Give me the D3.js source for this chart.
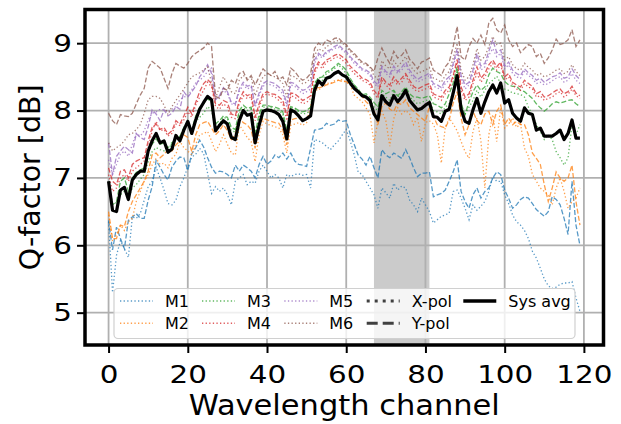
<!DOCTYPE html>
<html>
<head>
<meta charset="utf-8">
<script src="https://cdn.jsdelivr.net/npm/d3@7"></script>
<style>
  body { margin: 0; background: #fff; }
  svg { display: block; font-family: "DejaVu Sans", sans-serif; }
</style>
</head>
<body>
<svg id="chart" width="621" height="424"></svg>
<script>
// Q-factor per wavelength channel
const sysAvg = [
  6.95, 6.52, 6.50, 6.82, 6.86, 6.68, 6.97, 7.05, 7.10, 7.10,
  7.40, 7.55, 7.66, 7.52, 7.55, 7.38, 7.43, 7.63, 7.55, 7.71,
  7.84, 7.66, 7.86, 8.02, 8.12, 8.21, 8.16, 7.70, 7.78, 7.85,
  7.80, 7.60, 7.57, 7.85, 8.00, 7.93, 7.95, 7.52, 7.78, 7.99,
  8.01, 8.00, 7.98, 7.94, 7.84, 7.58, 8.01, 7.98, 7.92, 7.85,
  7.88, 7.92, 8.30, 8.44, 8.38, 8.48, 8.50, 8.55, 8.58, 8.53,
  8.50, 8.41, 8.33, 8.28, 8.22, 8.20, 8.15, 7.95, 7.86, 8.22,
  8.13, 8.08, 8.22, 8.13, 8.20, 8.30, 8.15, 8.08, 8.01, 8.03,
  8.08, 8.12, 7.91, 7.90, 7.84, 7.99, 8.02, 8.26, 8.52, 8.02,
  7.84, 7.81, 8.01, 8.18, 7.96, 8.13, 8.28, 8.38, 8.26, 8.41,
  8.11, 8.16, 7.96, 7.89, 7.84, 8.04, 7.96, 7.94, 7.71, 7.74,
  7.62, 7.62, 7.62, 7.66, 7.71, 7.57, 7.66, 7.86, 7.59, 7.59
]
const m1x = [
  6.35, 5.30, 5.85, 6.07, 5.95, 5.82, 6.42, 6.40, 6.47, 6.67,
  6.87, 6.95, 7.16, 7.00, 6.82, 6.62, 6.60, 6.67, 6.87, 7.00,
  7.16, 7.31, 7.35, 7.44, 7.36, 7.07, 6.77, 6.87, 6.80, 6.85,
  6.75, 6.60, 6.95, 7.00, 7.05, 6.90, 6.95, 6.92, 7.10, 7.19,
  7.10, 7.00, 7.05, 7.00, 6.85, 7.05, 7.02, 7.05, 7.06, 7.04,
  7.05, 6.85, 7.57, 7.55, 7.52, 7.47, 7.42, 7.49, 7.55, 7.64,
  7.72, 7.55, 7.35, 7.09, 7.05, 6.95, 6.85, 6.75, 6.55, 6.85,
  6.78, 6.70, 6.92, 6.82, 6.88, 6.85, 6.67, 6.60, 6.50, 6.70,
  6.60, 6.50, 6.33, 6.38, 6.43, 6.45, 6.48, 6.80, 6.82, 6.70,
  6.55, 6.38, 6.60, 6.52, 6.58, 6.65, 6.80, 7.02, 6.95, 6.95,
  6.75, 6.62, 6.45, 6.35, 6.30, 6.22, 6.10, 5.91, 5.81, 5.66,
  5.50, 5.40, 5.36, 5.38, 5.42, 5.44, 5.44, 5.46, 5.22, 5.02
]
const m1y = [
  6.37, 5.93, 6.27, 6.10, 5.95, 6.37, 6.42, 6.47, 6.40, 6.40,
  6.67, 6.87, 7.26, 7.16, 7.05, 6.97, 7.16, 7.25, 7.31, 7.30,
  7.11, 7.36, 7.45, 7.56, 7.46, 7.30, 7.16, 7.07, 7.10, 7.09,
  7.05, 7.00, 7.19, 7.10, 7.19, 7.15, 7.10, 7.00, 7.20, 7.32,
  7.20, 7.25, 7.34, 7.30, 7.37, 7.28, 7.37, 7.25, 7.20, 7.19,
  7.17, 7.44, 7.71, 7.72, 7.74, 7.81, 7.78, 7.80, 7.86, 7.84,
  7.85, 7.65, 7.50, 7.34, 7.28, 7.19, 7.32, 7.15, 7.00, 7.42,
  7.34, 7.30, 7.37, 7.33, 7.29, 7.42, 7.30, 7.15, 7.02, 7.07,
  7.07, 7.09, 6.72, 6.75, 6.77, 6.82, 6.95, 7.09, 7.27, 6.80,
  6.65, 6.55, 6.75, 6.85, 6.70, 6.80, 6.85, 7.00, 7.09, 7.05,
  6.82, 6.70, 6.55, 6.60, 6.68, 6.72, 6.70, 6.62, 6.53, 6.48,
  6.43, 6.50, 6.72, 6.68, 6.60, 6.40, 6.16, 6.95, 6.30, 6.00
]
const m2x = [
  6.45, 6.06, 6.16, 6.30, 6.22, 6.35, 6.40, 6.65, 6.80, 6.95,
  7.05, 7.19, 7.29, 7.20, 7.22, 7.15, 7.29, 7.35, 7.54, 7.45,
  7.40, 7.34, 7.50, 7.64, 7.66, 7.69, 7.55, 7.39, 7.50, 7.64,
  7.50, 7.37, 7.34, 7.79, 7.70, 7.60, 7.54, 7.24, 7.64, 7.84,
  7.80, 7.78, 7.76, 7.74, 7.64, 7.37, 7.78, 7.80, 7.82, 7.78,
  7.82, 8.08, 8.31, 8.30, 8.36, 8.41, 8.40, 8.44, 8.45, 8.46,
  8.42, 8.38, 8.23, 8.18, 8.13, 8.04, 7.94, 7.52, 7.84, 7.99,
  7.85, 7.47, 7.88, 8.04, 7.95, 8.00, 7.95, 7.79, 7.90, 7.54,
  7.82, 7.85, 7.80, 7.64, 7.22, 7.75, 7.89, 7.80, 7.70, 7.54,
  7.39, 7.29, 7.69, 7.89, 7.55, 6.85, 7.64, 7.94, 7.54, 8.04,
  7.74, 7.80, 7.89, 7.75, 7.80, 7.44, 7.32, 7.05, 6.95, 6.85,
  6.80, 6.75, 6.60, 6.85, 7.00, 6.80, 6.55, 6.65, 6.70, 6.85
]
const m2y = [
  6.50, 6.10, 6.10, 6.30, 6.28, 6.50, 6.65, 6.75, 6.85, 6.95,
  7.10, 7.34, 7.37, 7.30, 7.35, 7.42, 7.40, 7.49, 7.55, 7.64,
  7.60, 7.39, 7.64, 7.79, 7.82, 7.84, 7.74, 7.64, 7.70, 7.79,
  7.70, 7.57, 7.65, 7.89, 7.82, 7.79, 7.71, 7.44, 7.79, 7.89,
  7.86, 7.84, 7.82, 7.81, 7.71, 7.49, 7.86, 7.88, 7.89, 7.86,
  7.87, 7.95, 8.33, 8.34, 8.35, 8.38, 8.40, 8.42, 8.45, 8.43,
  8.43, 8.40, 8.33, 8.28, 8.21, 8.13, 8.08, 8.01, 7.79, 8.06,
  8.11, 8.02, 7.99, 8.11, 8.09, 8.16, 8.04, 7.99, 7.94, 7.89,
  7.84, 8.06, 7.91, 7.79, 7.76, 7.74, 7.86, 8.11, 8.28, 7.89,
  7.64, 7.79, 7.99, 7.85, 7.79, 7.95, 7.99, 7.79, 7.99, 8.08,
  7.79, 7.89, 7.79, 7.84, 7.79, 7.79, 7.64, 7.37, 7.29, 7.20,
  6.90, 6.65, 6.85, 7.09, 7.00, 6.95, 7.00, 7.19, 6.65, 6.30
]
const m3x = [
  6.85, 6.63, 6.63, 6.75, 6.80, 6.70, 6.85, 6.90, 6.98, 7.05,
  7.24, 7.39, 7.45, 7.42, 7.40, 7.38, 7.54, 7.58, 7.62, 7.74,
  7.80, 7.64, 7.84, 7.90, 7.96, 8.06, 8.00, 7.75, 7.80, 7.90,
  7.88, 7.70, 7.68, 7.95, 8.04, 8.00, 8.02, 7.60, 7.90, 8.05,
  8.05, 8.04, 8.02, 8.00, 7.95, 7.60, 8.04, 8.03, 7.98, 7.95,
  7.96, 8.00, 8.38, 8.50, 8.45, 8.55, 8.58, 8.62, 8.68, 8.62,
  8.55, 8.45, 8.38, 8.30, 8.25, 8.22, 8.18, 8.05, 8.00, 8.25,
  8.20, 8.15, 8.28, 8.20, 8.25, 8.32, 8.20, 8.15, 8.10, 8.12,
  8.15, 8.16, 8.00, 7.98, 7.95, 8.05, 8.10, 8.30, 8.62, 8.05,
  7.95, 8.05, 8.15, 8.30, 8.20, 8.30, 8.40, 8.45, 8.51, 8.40,
  8.32, 8.30, 8.26, 8.25, 8.24, 8.20, 8.05, 7.94, 7.79, 7.69,
  7.57, 7.64, 7.57, 7.39, 7.30, 7.19, 7.30, 7.79, 7.64, 7.79
]
const m3y = [
  6.95, 6.60, 6.65, 6.95, 7.00, 6.80, 7.00, 7.08, 7.12, 7.15,
  7.40, 7.50, 7.58, 7.50, 7.52, 7.45, 7.50, 7.62, 7.60, 7.75,
  7.85, 7.70, 7.92, 8.05, 8.10, 8.18, 8.12, 7.80, 7.85, 7.92,
  7.90, 7.75, 7.72, 8.00, 8.08, 8.03, 8.05, 7.65, 7.95, 8.08,
  8.08, 8.06, 8.05, 8.03, 7.98, 7.70, 8.06, 8.04, 8.00, 7.98,
  8.00, 8.05, 8.41, 8.48, 8.50, 8.58, 8.60, 8.65, 8.70, 8.66,
  8.60, 8.48, 8.38, 8.32, 8.23, 8.25, 8.20, 8.12, 8.05, 8.30,
  8.25, 8.28, 8.30, 8.22, 8.28, 8.35, 8.25, 8.20, 8.20, 8.18,
  8.20, 8.22, 8.10, 8.08, 8.04, 8.10, 8.25, 8.40, 8.65, 8.10,
  7.94, 8.13, 8.28, 8.38, 8.30, 8.35, 8.53, 8.63, 8.58, 8.55,
  8.43, 8.38, 8.36, 8.36, 8.30, 8.28, 8.23, 8.18, 8.10, 8.04,
  7.99, 8.04, 8.10, 8.13, 8.11, 8.13, 8.15, 8.16, 8.10, 8.06
]
const m4x = [
  7.05, 6.80, 6.85, 7.00, 7.05, 6.95, 7.10, 7.15, 7.20, 7.25,
  7.45, 7.70, 7.84, 7.70, 7.72, 7.62, 7.66, 7.80, 7.78, 7.86,
  7.98, 7.90, 8.08, 8.20, 8.30, 8.42, 8.35, 8.06, 8.02, 8.10,
  8.05, 7.90, 7.88, 8.10, 8.22, 8.18, 8.20, 7.85, 8.05, 8.20,
  8.25, 8.22, 8.20, 8.15, 8.10, 7.85, 8.22, 8.20, 8.15, 8.10,
  8.12, 8.18, 8.55, 8.68, 8.62, 8.72, 8.74, 8.78, 8.80, 8.75,
  8.70, 8.62, 8.55, 8.50, 8.45, 8.42, 8.38, 8.25, 8.18, 8.45,
  8.38, 8.32, 8.45, 8.38, 8.42, 8.52, 8.40, 8.32, 8.28, 8.30,
  8.32, 8.36, 8.20, 8.18, 8.15, 8.25, 8.30, 8.48, 8.72, 8.30,
  8.15, 8.20, 8.40, 8.55, 8.42, 8.50, 8.62, 8.70, 8.60, 8.68,
  8.45, 8.50, 8.38, 8.32, 8.30, 8.40, 8.35, 8.32, 8.20, 8.22,
  8.15, 8.18, 8.20, 8.25, 8.28, 8.20, 8.24, 8.32, 8.22, 8.18
]
const m4y = [
  7.15, 6.95, 6.90, 7.10, 7.12, 7.00, 7.20, 7.25, 7.28, 7.30,
  7.55, 7.75, 7.80, 7.72, 7.75, 7.65, 7.70, 7.85, 7.80, 7.92,
  8.05, 7.95, 8.12, 8.28, 8.40, 8.46, 8.40, 8.10, 8.08, 8.15,
  8.12, 7.95, 7.92, 8.15, 8.28, 8.22, 8.25, 7.90, 8.10, 8.25,
  8.28, 8.25, 8.24, 8.20, 8.15, 7.92, 8.26, 8.25, 8.20, 8.15,
  8.18, 8.22, 8.60, 8.72, 8.68, 8.75, 8.78, 8.82, 8.84, 8.80,
  8.75, 8.66, 8.60, 8.55, 8.48, 8.46, 8.42, 8.30, 8.22, 8.50,
  8.42, 8.38, 8.50, 8.42, 8.48, 8.55, 8.45, 8.36, 8.32, 8.35,
  8.38, 8.40, 8.25, 8.22, 8.20, 8.30, 8.35, 8.52, 8.76, 8.35,
  8.20, 8.25, 8.45, 8.65, 8.48, 8.55, 8.68, 8.75, 8.65, 8.72,
  8.50, 8.55, 8.42, 8.38, 8.35, 8.45, 8.40, 8.36, 8.25, 8.28,
  8.20, 8.22, 8.26, 8.30, 8.32, 8.25, 8.28, 8.36, 8.26, 8.22
]
const m5x = [
  7.27, 7.05, 7.20, 7.35, 7.40, 7.32, 7.50, 7.66, 7.62, 7.70,
  7.86, 7.96, 7.98, 8.02, 8.01, 7.98, 8.02, 8.06, 8.16, 8.20,
  8.22, 8.31, 8.41, 8.45, 8.50, 8.58, 8.63, 8.21, 8.20, 8.30,
  8.25, 8.10, 8.08, 8.28, 8.38, 8.32, 8.35, 8.05, 8.22, 8.36,
  8.40, 8.38, 8.36, 8.30, 8.25, 8.05, 8.38, 8.36, 8.30, 8.25,
  8.28, 8.32, 8.70, 8.82, 8.78, 8.85, 8.88, 8.92, 8.94, 8.90,
  8.85, 8.78, 8.70, 8.65, 8.60, 8.58, 8.52, 8.40, 8.35, 8.62,
  8.55, 8.50, 8.62, 8.55, 8.60, 8.68, 8.56, 8.48, 8.42, 8.45,
  8.48, 8.52, 8.36, 8.34, 8.30, 8.40, 8.45, 8.65, 8.88, 8.48,
  8.32, 8.38, 8.55, 8.78, 8.60, 8.65, 8.82, 8.92, 8.80, 8.85,
  8.62, 8.68, 8.55, 8.50, 8.48, 8.58, 8.52, 8.48, 8.40, 8.42,
  8.38, 8.40, 8.44, 8.48, 8.50, 8.42, 8.45, 8.55, 8.45, 8.40
]
const m5y = [
  7.52, 7.05, 7.32, 7.40, 7.47, 7.42, 7.37, 7.66, 7.60, 7.57,
  7.76, 8.01, 7.95, 7.85, 8.01, 7.92, 7.96, 8.06, 8.02, 8.28,
  8.20, 8.28, 8.36, 8.50, 8.58, 8.68, 8.55, 8.16, 8.22, 8.34,
  8.28, 8.12, 8.10, 8.32, 8.42, 8.36, 8.38, 8.08, 8.26, 8.40,
  8.44, 8.42, 8.40, 8.35, 8.30, 8.10, 8.42, 8.40, 8.34, 8.30,
  8.32, 8.38, 8.75, 8.85, 8.80, 8.88, 8.90, 8.95, 8.98, 8.92,
  8.88, 8.80, 8.74, 8.68, 8.62, 8.60, 8.56, 8.44, 8.38, 8.66,
  8.58, 8.54, 8.66, 8.58, 8.64, 8.72, 8.60, 8.52, 8.46, 8.50,
  8.52, 8.56, 8.40, 8.38, 8.34, 8.45, 8.50, 8.70, 8.92, 8.52,
  8.38, 8.42, 8.60, 8.85, 8.66, 8.70, 8.88, 9.05, 8.86, 8.90,
  8.66, 8.72, 8.60, 8.55, 8.52, 8.62, 8.56, 8.52, 8.45, 8.48,
  8.42, 8.46, 8.50, 8.52, 8.56, 8.48, 8.50, 8.62, 8.52, 8.46
]
const m6x = [
  7.52, 7.40, 7.45, 7.49, 7.55, 7.64, 7.66, 7.72, 7.79, 7.96,
  8.16, 8.21, 8.21, 8.18, 8.08, 7.94, 8.06, 8.15, 8.23, 8.32,
  8.41, 8.50, 8.53, 8.56, 8.60, 8.65, 8.41, 8.18, 8.35, 8.50,
  8.40, 8.28, 8.25, 8.45, 8.52, 8.48, 8.50, 8.22, 8.38, 8.50,
  8.55, 8.52, 8.50, 8.46, 8.40, 8.20, 8.52, 8.50, 8.45, 8.40,
  8.42, 8.48, 8.82, 8.92, 8.88, 8.95, 8.98, 9.02, 9.04, 9.00,
  8.95, 8.88, 8.82, 8.76, 8.70, 8.68, 8.64, 8.52, 8.46, 8.74,
  8.66, 8.62, 8.74, 8.66, 8.72, 8.80, 8.68, 8.60, 8.55, 8.58,
  8.60, 8.64, 8.48, 8.46, 8.42, 8.52, 8.58, 8.78, 9.00, 8.60,
  8.45, 8.50, 8.68, 8.92, 8.75, 8.80, 8.95, 9.10, 8.98, 9.00,
  8.75, 8.80, 8.68, 8.62, 8.60, 8.70, 8.64, 8.60, 8.52, 8.55,
  8.50, 8.52, 8.56, 8.60, 8.62, 8.55, 8.58, 8.68, 8.58, 8.52
]
const m6y = [
  7.96, 7.85, 7.79, 7.94, 7.92, 7.91, 7.96, 8.10, 8.23, 8.33,
  8.63, 8.73, 8.68, 8.63, 8.48, 8.33, 8.55, 8.70, 8.66, 8.63,
  8.70, 8.80, 8.85, 8.89, 8.93, 9.00, 8.95, 8.21, 8.18, 8.33,
  8.30, 8.45, 8.40, 8.55, 8.58, 8.45, 8.52, 8.38, 8.50, 8.62,
  8.56, 8.52, 8.58, 8.46, 8.50, 8.38, 8.63, 8.58, 8.50, 8.45,
  8.48, 8.55, 8.92, 9.00, 8.96, 9.05, 9.02, 9.07, 9.08, 9.02,
  8.98, 8.90, 8.85, 8.78, 8.72, 8.70, 8.65, 8.58, 8.78, 8.93,
  8.80, 8.70, 8.88, 8.78, 8.82, 8.90, 8.76, 8.70, 8.62, 8.72,
  8.74, 8.78, 8.60, 8.56, 8.52, 8.65, 8.72, 8.95, 9.25, 8.80,
  8.75, 8.95, 9.07, 9.00, 9.12, 8.98, 9.30, 9.37, 9.20, 9.15,
  9.27, 9.05, 8.95, 9.00, 8.86, 8.92, 8.98, 8.95, 8.80, 8.85,
  8.70, 8.78, 8.90, 9.06, 8.98, 9.00, 9.05, 9.20, 8.95, 9.05
]

const models = ['M1', 'M2', 'M3', 'M4', 'M5', 'M6']
const modelColors = ['#1f77b4', '#ff7f0e', '#2ca02c', '#d62728', '#9467bd', '#8c564b']
const xPol = [m1x, m2x, m3x, m4x, m5x, m6x]
const yPol = [m1y, m2y, m3y, m4y, m5y, m6y]
const xTicks = [0, 20, 40, 60, 80, 100, 120]
const yTicks = [5, 6, 7, 8, 9]
const band = [67, 81]

const series = []
models.forEach((m, i) => {
    series.push({ name: m, pol: 'X', color: modelColors[i], values: xPol[i] })
    series.push({ name: m, pol: 'Y', color: modelColors[i], values: yPol[i] })
})

const margin = { top: 9.5, right: 17.5, bottom: 79, left: 85 }
const width = 621, height = 424

const svg = d3.select('#chart')

const x = d3.scaleLinear().domain([-5.95, 124.95]).range([margin.left, width - margin.right])
const y = d3.scaleLinear().domain([4.52, 9.5]).range([height - margin.bottom, margin.top])

const dash = { X: '1.3,2.3', Y: '5,2.2' }

// shaded channel band
svg.append('rect')
    .attr('x', x(band[0]))
    .attr('width', x(band[1]) - x(band[0]))
    .attr('y', margin.top)
    .attr('height', y.range()[0] - margin.top)
    .attr('fill', '#cbcbcb')

// grid
const grid = svg.append('g').attr('stroke', '#b0b0b0').attr('stroke-width', 1.8)
grid.selectAll('.gx').data(xTicks).enter().append('line')
    .attr('x1', d => x(d)).attr('x2', d => x(d))
    .attr('y1', margin.top).attr('y2', y.range()[0])
grid.selectAll('.gy').data(yTicks).enter().append('line')
    .attr('x1', margin.left).attr('x2', width - margin.right)
    .attr('y1', d => y(d)).attr('y2', d => y(d))

// lines
const line = d3.line().x((d, i) => x(i)).y(d => y(d))

svg.append('g')
    .attr('fill', 'none')
  .selectAll('path')
  .data(series)
  .enter().append('path')
    .attr('d', d => line(d.values))
    .attr('stroke', d => d.color)
    .attr('stroke-opacity', 0.75)
    .attr('stroke-width', 1.3)
    .attr('stroke-dasharray', d => dash[d.pol])

svg.append('path')
    .attr('d', line(sysAvg))
    .attr('fill', 'none')
    .attr('stroke', '#000')
    .attr('stroke-width', 3.2)
    .attr('stroke-linejoin', 'round')

// axes
const xAxis = svg.append('g')
    .attr('transform', `translate(0,${y.range()[0]})`)
    .call(d3.axisBottom(x).tickValues(xTicks).tickSize(8).tickSizeOuter(0).tickFormat(d3.format('d')))
const yAxis = svg.append('g')
    .attr('transform', `translate(${margin.left},0)`)
    .call(d3.axisLeft(y).tickValues(yTicks).tickSize(8).tickSizeOuter(0).tickFormat(d3.format('d')))

for (const ax of [xAxis, yAxis]) {
    ax.select('.domain').remove()
    ax.selectAll('.tick line').attr('stroke', '#000').attr('stroke-width', 2)
    ax.selectAll('.tick text')
        .attr('fill', '#000')
        .style('font-family', '"DejaVu Sans", sans-serif')
        .style('font-size', '24.5px')
        .attr('transform', 'scale(1.2,1)')
}
xAxis.selectAll('.tick text').attr('y', 38).attr('dy', null)
yAxis.selectAll('.tick text').attr('x', -13 / 1.2)

// frame
svg.append('rect')
    .attr('x', margin.left).attr('y', margin.top)
    .attr('width', width - margin.right - margin.left)
    .attr('height', y.range()[0] - margin.top)
    .attr('fill', 'none')
    .attr('stroke', '#000')
    .attr('stroke-width', 3.5)

// axis labels
svg.append('text')
    .attr('transform', `translate(${(margin.left + width - margin.right) / 2},415) scale(1.07,1)`)
    .attr('text-anchor', 'middle')
    .style('font-size', '28.5px')
    .text('Wavelength channel')

svg.append('text')
    .attr('transform', `translate(39.5,${(margin.top + y.range()[0]) / 2}) rotate(-90)`)
    .attr('text-anchor', 'middle')
    .style('font-size', '28.5px')
    .text('Q-factor [dB]')

// legend
const legend = svg.append('g')
legend.append('rect')
    .attr('x', 114).attr('y', 288.5)
    .attr('width', 461).attr('height', 50)
    .attr('rx', 4)
    .attr('fill', '#fff').attr('fill-opacity', 0.8)
    .attr('stroke', '#d0d0d0').attr('stroke-width', 1.2)

const legendItems = [
    { label: 'M1', col: 0, row: 0, color: modelColors[0], w: 1.5, dash: dash.X, op: 0.75 },
    { label: 'M2', col: 0, row: 1, color: modelColors[1], w: 1.5, dash: dash.X, op: 0.75 },
    { label: 'M3', col: 1, row: 0, color: modelColors[2], w: 1.5, dash: dash.X, op: 0.75 },
    { label: 'M4', col: 1, row: 1, color: modelColors[3], w: 1.5, dash: dash.X, op: 0.75 },
    { label: 'M5', col: 2, row: 0, color: modelColors[4], w: 1.5, dash: dash.X, op: 0.75 },
    { label: 'M6', col: 2, row: 1, color: modelColors[5], w: 1.5, dash: dash.X, op: 0.75 },
    { label: 'X-pol', col: 3, row: 0, color: '#404040', w: 3, dash: '3,5', op: 1 },
    { label: 'Y-pol', col: 3, row: 1, color: '#404040', w: 3, dash: '11,5', op: 1 },
    { label: 'Sys avg', col: 4, row: 0, color: '#000', w: 3.4, dash: null, op: 1 }
]
const colX = [120, 202, 284.3, 366.7, 463.3]
const rowY = [301, 323.3]

const li = legend.selectAll('.item').data(legendItems).enter().append('g')
    .attr('transform', d => `translate(${colX[d.col]},${rowY[d.row]})`)
li.append('line')
    .attr('x1', 0).attr('x2', 33)
    .attr('stroke', d => d.color)
    .attr('stroke-width', d => d.w)
    .attr('stroke-opacity', d => d.op)
    .attr('stroke-dasharray', d => d.dash)
li.append('text')
    .attr('x', 45).attr('y', 5.8)
    .style('font-size', '16px')
    .text(d => d.label)
</script>
</body>
</html>
